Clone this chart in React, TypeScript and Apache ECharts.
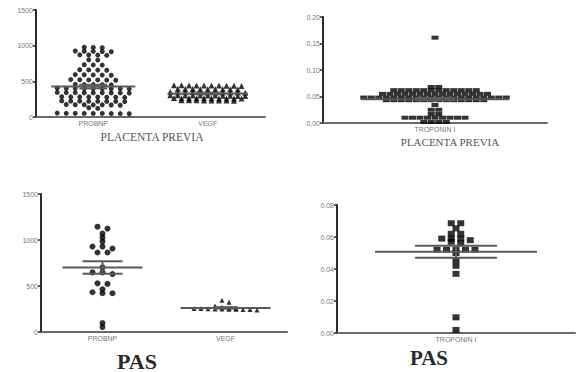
import React, { useEffect, useRef } from "react";
import * as echarts from "echarts";

// ---------- data ----------
const ppCategories = ["PROBNP", "VEGF"];
const pasCategories = ["PROBNP", "VEGF"];
const troponinCategories = ["TROPONIN I"];

const ppProbnp = [
  975, 972, 978, 925, 920, 918, 922, 915, 872, 868, 870, 865, 802, 798, 733, 728, 730,
  662, 658, 660, 655, 592, 588, 590, 595, 585, 522, 518, 520, 525, 515, 520, 458, 452, 455,
  450, 455, 402, 398, 400, 405, 395, 400, 402, 398, 400, 342, 338, 340, 345, 335, 340, 342,
  338, 340, 282, 278, 280, 285, 275, 280, 282, 278, 222, 218, 220, 225, 215, 220, 222, 218,
  172, 168, 170, 175, 165, 170, 172, 130, 120, 52, 48, 50, 55, 45, 50, 52, 48, 50,
];
const ppVegf = [
  442, 440, 438, 445, 440, 436, 442, 440, 438, 444, 392, 388, 390, 395, 385, 390, 392, 388,
  390, 347, 343, 345, 348, 342, 345, 347, 343, 345, 340, 350, 302, 298, 300, 305, 295, 300,
  302, 298, 300, 296, 304, 264, 260, 262, 265, 258, 262, 264, 260, 262, 258, 234, 230, 232,
  235, 228, 232, 234, 230,
];
const ppTroponin = [
  0.161, 0.068, 0.068, 0.062, 0.062, 0.062, 0.062, 0.062, 0.062, 0.062, 0.062, 0.062, 0.062,
  0.062, 0.062, 0.055, 0.055, 0.055, 0.055, 0.055, 0.055, 0.055, 0.055, 0.055, 0.055, 0.055,
  0.055, 0.055, 0.055, 0.055, 0.048, 0.048, 0.048, 0.048, 0.048, 0.048, 0.048, 0.048, 0.048,
  0.048, 0.048, 0.048, 0.048, 0.048, 0.048, 0.048, 0.048, 0.048, 0.048, 0.048, 0.043, 0.043,
  0.043, 0.043, 0.043, 0.043, 0.043, 0.043, 0.043, 0.043, 0.043, 0.043, 0.043, 0.043, 0.034,
  0.025, 0.025, 0.017, 0.017, 0.01, 0.01, 0.01, 0.01, 0.01, 0.01, 0.01, 0.01, 0.01, 0.002,
  0.002, 0.002, 0.002,
];
const pasProbnp = [
  1145, 1123, 1069, 1026, 983, 929, 929, 907, 864, 864, 702, 648, 648, 630, 529, 523, 464,
  432, 421, 421, 97, 54,
];
const pasVegf = [346, 324, 282, 268, 262, 258, 256, 255, 252, 250, 250, 248, 247, 245, 244, 240];
const pasTroponin = [
  0.0686, 0.0686, 0.0654, 0.062, 0.062, 0.059, 0.059, 0.059, 0.058, 0.057, 0.056, 0.052, 0.052,
  0.052, 0.052, 0.052, 0.05, 0.0456, 0.042, 0.037, 0.0098, 0.0019,
];

const ppProbnpVegfMean = [426, 330];
const ppProbnpVegfSem = [25, 10];
const ppTroponinMean = [0.045];
const ppTroponinSem = [0.002];
const pasProbnpVegfMean = [702, 262];
const pasProbnpVegfSem = [68, 8];
const pasTroponinMean = [0.0508];
const pasTroponinSem = [0.0038];

const probnpMax = 1500;
const probnpStep = 500;
const ppTroponinMax = 0.2;
const ppTroponinStep = 0.05;
const pasTroponinMax = 0.08;
const pasTroponinStep = 0.02;

// ---------- helpers ----------
function swarm(values: number[], center: number, gap: number, threshold: number): number[][] {
  const sorted = [...values].sort((a, b) => b - a);
  const groups: number[][] = [];
  for (const v of sorted) {
    const g = groups[groups.length - 1];
    if (g && g[0] - v < threshold) g.push(v);
    else groups.push([v]);
  }
  const pts: number[][] = [];
  for (const g of groups) {
    g.forEach((v, k) => pts.push([center + (k - (g.length - 1) / 2) * gap, v]));
  }
  return pts;
}

export default function App() {
  const ref = useRef<HTMLDivElement>(null);
  useEffect(() => {
    if (!ref.current) return;
    const chart = echarts.init(ref.current, undefined, { renderer: "svg" });

    const panels = [
      {
        grid: { left: 36, top: 10, width: 229, height: 107 },
        cats: ppCategories, groups: [ppProbnp, ppVegf], yMax: probnpMax, interval: probnpStep, dec: 0,
        symbols: ["circle", "triangle"], sizes: [5, 6] as any[], gapPx: [9, 7.5], thresh: [30, 20],
        meanHalfPx: [42, 40], semHalfPx: [14, 12], means: ppProbnpVegfMean, sems: ppProbnpVegfSem,
      },
      {
        grid: { left: 323, top: 17, width: 224, height: 106 },
        cats: troponinCategories, groups: [ppTroponin], yMax: ppTroponinMax, interval: ppTroponinStep, dec: 2,
        symbols: ["rect"], sizes: [[7, 4]] as any[], gapPx: [7.5], thresh: [0.003],
        meanHalfPx: [74], semHalfPx: [20], means: ppTroponinMean, sems: ppTroponinSem,
      },
      {
        grid: { left: 41, top: 194, width: 246, height: 138 },
        cats: pasCategories, groups: [pasProbnp, pasVegf], yMax: probnpMax, interval: probnpStep, dec: 0,
        symbols: ["circle", "triangle"], sizes: [6, 5] as any[], gapPx: [10, 7], thresh: [30, 25],
        meanHalfPx: [40, 45], semHalfPx: [20, 12], means: pasProbnpVegfMean, sems: pasProbnpVegfSem,
      },
      {
        grid: { left: 337, top: 205, width: 238, height: 128 },
        cats: troponinCategories, groups: [pasTroponin], yMax: pasTroponinMax, interval: pasTroponinStep, dec: 2,
        symbols: ["rect"], sizes: [[7, 6]] as any[], gapPx: [9.5], thresh: [0.0015],
        meanHalfPx: [81], semHalfPx: [41], means: pasTroponinMean, sems: pasTroponinSem,
      },
    ];

    const grids: any[] = [];
    const xAxes: any[] = [];
    const yAxes: any[] = [];
    const series: any[] = [];

    panels.forEach((p, i) => {
      const n = p.cats.length;
      const u = n / p.grid.width; // data units per px on hidden x axis
      grids.push({ ...p.grid, containLabel: false });
      xAxes.push({
        type: "category", gridIndex: i, data: p.cats, boundaryGap: true,
        axisLine: { lineStyle: { color: "#6a6a6a", width: 2 } },
        axisTick: { alignWithLabel: true, length: 3, lineStyle: { color: "#6a6a6a", width: 1.5 } },
        axisLabel: { fontSize: 7, color: "#777", margin: 3, fontFamily: "Liberation Sans" },
        splitLine: { show: false },
      });
      xAxes.push({ type: "value", gridIndex: i, min: 0, max: n, show: false });
      yAxes.push({
        type: "value", gridIndex: i, min: 0, max: p.yMax, interval: p.interval,
        axisLine: { show: true, lineStyle: { color: "#2a2a2a", width: 2 } },
        axisTick: { show: true, length: 3, lineStyle: { color: "#2a2a2a", width: 1.5 } },
        axisLabel: {
          fontSize: 7, color: "#777", margin: 3, fontFamily: "Liberation Sans",
          formatter: (v: number) => v.toFixed(p.dec),
        },
        splitLine: { show: false },
      });
      const xIdx = i * 2 + 1;
      p.groups.forEach((vals, j) => {
        const c = j + 0.5;
        series.push({
          type: "scatter", xAxisIndex: xIdx, yAxisIndex: i, z: 2,
          symbol: p.symbols[j], symbolSize: p.sizes[j],
          itemStyle: { color: "#000" },
          data: swarm(vals, c, p.gapPx[j] * u, p.thresh[j]),
        });
        const m = p.means[j];
        const s = p.sems[j];
        const mh = p.meanHalfPx[j] * u;
        const sh = p.semHalfPx[j] * u;
        const lines = [
          [[c - mh, m], [c + mh, m]],
          [[c - sh, m + s], [c + sh, m + s]],
          [[c - sh, m - s], [c + sh, m - s]],
          [[c, m - s], [c, m + s]],
        ];
        lines.forEach((d) =>
          series.push({
            type: "line", xAxisIndex: xIdx, yAxisIndex: i, z: 3, symbol: "none",
            lineStyle: { color: "#5a5a5a", width: 2 }, data: d, silent: true,
          })
        );
      });
    });

    chart.setOption({
      animation: false,
      backgroundColor: "#fff",
      grid: grids,
      xAxis: xAxes,
      yAxis: yAxes,
      series,
      graphic: [
        { type: "text", x: 152, y: 137, style: { text: "PLACENTA PREVIA", fontSize: 11.5, fill: "#555", fontFamily: "Liberation Serif", textAlign: "center", textVerticalAlign: "middle" } },
        { type: "text", x: 450, y: 142, style: { text: "PLACENTA PREVIA", fontSize: 11, fill: "#555", fontFamily: "Liberation Serif", textAlign: "center", textVerticalAlign: "middle" } },
        { type: "text", x: 137, y: 361, style: { text: "PAS", fontSize: 22, fontWeight: "bold", fill: "#2a2a2a", fontFamily: "Liberation Serif", textAlign: "center", textVerticalAlign: "middle" } },
        { type: "text", x: 429, y: 358, style: { text: "PAS", fontSize: 21, fontWeight: "bold", fill: "#2a2a2a", fontFamily: "Liberation Serif", textAlign: "center", textVerticalAlign: "middle" } },
      ],
    });
    return () => chart.dispose();
  }, []);
  return (
    <div
      ref={ref}
      style={{ position: "fixed", left: 0, top: 0, width: 577, height: 372, background: "#fff" }}
    />
  );
}
